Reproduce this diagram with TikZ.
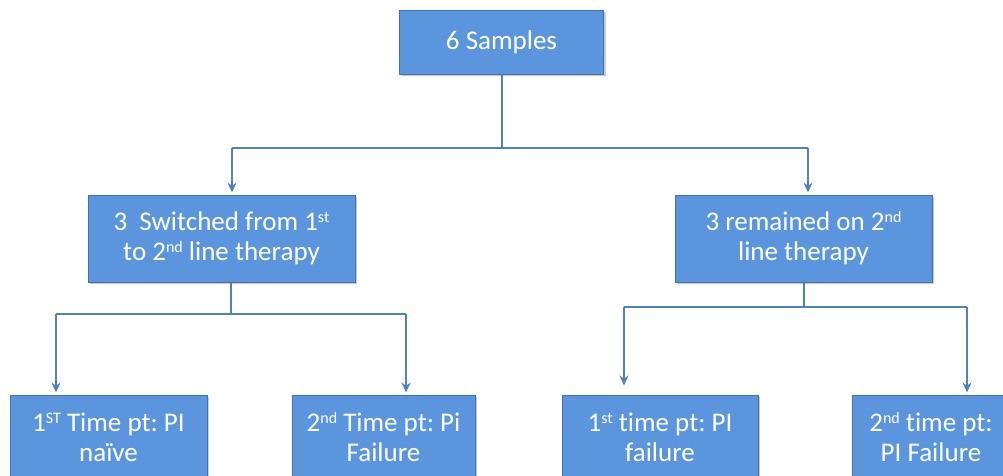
\documentclass[tikz,border=0pt]{standalone}
\usepackage{fontspec}
\setmainfont{Carlito}[Ligatures=NoCommon]
\frenchspacing
\usetikzlibrary{arrows.meta,shadows}
\definecolor{boxfill}{RGB}{90,149,221}
\definecolor{boxline}{RGB}{65,113,176}
\definecolor{connc}{RGB}{79,129,189}
\newcommand{\sups}[1]{\raisebox{8pt}{\fontsize{16}{16}\selectfont #1}}
\begin{document}
\begin{tikzpicture}[x=1pt,y=-1pt,
  box/.style={draw=boxline, line width=1pt, fill=boxfill, text=white, align=center,
    inner sep=0pt, font=\fontsize{27}{30}\selectfont,
    drop shadow={shadow xshift=2pt, shadow yshift=-2pt, opacity=.35, fill=black!60}},
  conn/.style={draw=connc, line width=2.4pt},
  arr/.style={conn, -{Stealth[length=10pt,width=9pt]}, shorten >=2pt}]
\useasboundingbox (0,0) rectangle (1003,475);
\clip (0,0) rectangle (1003,475);
% boxes
\node[box, minimum width=204pt, minimum height=64pt] (top) at (501.5,42) {6 Samples};
\node[box, minimum width=267pt, minimum height=87pt] (lm) at (221.5,238.5) {3\ \ Switched from 1\sups{st}\\to 2\sups{nd} line therapy};
\node[box, minimum width=257pt, minimum height=87pt] (rm) at (803.5,238.5) {3 remained on 2\sups{nd}\\line therapy};
\node[box, minimum width=197pt, minimum height=84pt] (b1) at (108.5,437) {1\sups{ST} Time pt: PI\\naïve};
\node[box, minimum width=183pt, minimum height=84pt] (b2) at (383.5,437) {2\sups{nd} Time pt: Pi\\Failure};
\node[box, minimum width=196pt, minimum height=84pt] (b3) at (660,437) {1\sups{st} time pt: PI\\failure};
\node[box, minimum width=158pt, minimum height=84pt] (b4) at (931,437) {2\sups{nd} time pt:\\PI Failure};
% level 1 connectors
\coordinate (j0) at (502,148);
\coordinate (jl) at (232,148);
\coordinate (jr) at (808,148);
\draw[conn] (top.south -| j0) -- (j0);
\draw[conn] (jl) -- (jr);
\draw[arr] (jl) -- (jl |- lm.north);
\draw[arr] (jr) -- (jr |- rm.north);
% level 2 left
\coordinate (k0) at (231,314);
\coordinate (kl) at (56,314);
\coordinate (kr) at (406,314);
\draw[conn] (lm.south -| k0) -- (k0);
\draw[conn] (kl) -- (kr);
\draw[arr] (kl) -- (kl |- b1.north);
\draw[arr] (kr) -- (kr |- b2.north);
% level 2 right
\coordinate (m0) at (804,307);
\coordinate (ml) at (624,307);
\coordinate (mr) at (967,307);
\draw[conn] (rm.south -| m0) -- (m0);
\draw[conn] (ml) -- (mr);
\draw[arr, shorten >=9pt] (ml) -- (ml |- b3.north);
\draw[arr] (mr) -- (mr |- b4.north);
\end{tikzpicture}
\end{document}
